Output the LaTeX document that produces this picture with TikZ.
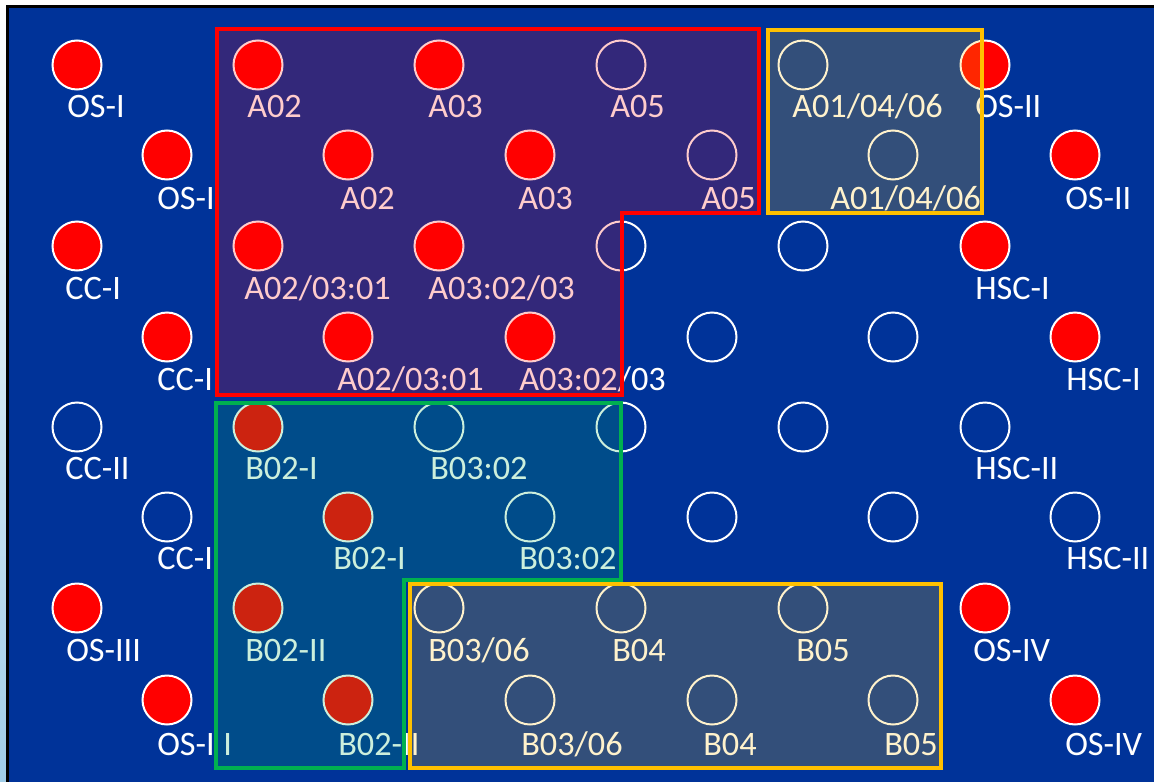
\documentclass[tikz,border=0pt]{standalone}
\usepackage{fontspec}
\setmainfont{Carlito}
\definecolor{bg}{RGB}{0,51,153}
\definecolor{gbox}{RGB}{0,176,80}
\definecolor{ybox}{RGB}{255,192,0}
\definecolor{rbox}{RGB}{255,0,0}
\definecolor{edgeblue}{RGB}{160,205,232}
\newcommand{\mkpin}[7]{%
  \node[#4] (#1) at (#2,#3) {};
  \node[lbl] (#1l) at (#5,#6) {#7};
}
\begin{document}
\begin{tikzpicture}[x=0.75pt,y=-0.75pt,
  full/.style={circle,minimum size=36.75pt,inner sep=0pt,draw=white,line width=1.5pt,fill=rbox},
  empty/.style={circle,minimum size=36.75pt,inner sep=0pt,draw=white,line width=1.5pt},
  lbl/.style={anchor=base west,inner sep=0pt,text=white,font=\fontsize{25.7}{29}\selectfont},
  overlay/.style={line width=2.4pt,fill opacity=0.2,draw opacity=1},
]
\useasboundingbox (0,0) rectangle (1154,782);
% frame and background
\fill[white] (0,0) rectangle (1154,782);
\shade[top color=white,middle color=white,bottom color=edgeblue] (0,0) rectangle (7,782);
\fill[black] (6,5) rectangle (1154,782);
\fill[bg] (9,8) rectangle (1154,782);
% row 0
\mkpin{a1}{77}{65}{full}{67}{117}{OS-I}
\mkpin{a2}{258}{65}{full}{247}{117}{A02}
\mkpin{a3}{439}{65}{full}{428}{117}{A03}
\mkpin{a4}{621}{65}{empty}{610}{117}{A05}
\mkpin{a5}{803}{65}{empty}{792}{117}{A01/04/06}
\mkpin{a6}{985}{65}{full}{975}{117}{OS-II}
% row 1
\mkpin{b1}{167}{155}{full}{157}{209}{OS-I}
\mkpin{b2}{348}{155}{full}{340}{209}{A02}
\mkpin{b3}{530}{155}{full}{518}{209}{A03}
\mkpin{b4}{712}{155}{empty}{701}{209}{A05}
\mkpin{b5}{893}{155}{empty}{830}{209}{A01/04/06}
\mkpin{b6}{1075}{155}{full}{1065}{209}{OS-II}
% row 2
\mkpin{c1}{77}{246}{full}{65}{299}{CC-I}
\mkpin{c2}{258}{246}{full}{244}{299}{A02/03:01}
\mkpin{c3}{439}{246}{full}{428}{299}{A03:02/03}
\node[empty] (c4) at (621,246) {};
\node[empty] (c5) at (803,246) {};
\mkpin{c6}{985}{246}{full}{975}{299}{HSC-I}
% row 3
\mkpin{d1}{167}{337}{full}{157}{390}{CC-I}
\mkpin{d2}{348}{337}{full}{337}{390}{A02/03:01}
\mkpin{d3}{530}{337}{full}{519}{390}{A03:02/03}
\node[empty] (d4) at (712,337) {};
\node[empty] (d5) at (893,337) {};
\mkpin{d6}{1075}{337}{full}{1066}{390}{HSC-I}
% row 4
\mkpin{e1}{77}{427}{empty}{65}{479}{CC-II}
\mkpin{e2}{258}{427}{full}{245}{479}{B02-I}
\mkpin{e3}{439}{427}{empty}{430}{479}{B03:02}
\node[empty] (e4) at (621,427) {};
\node[empty] (e5) at (803,427) {};
\mkpin{e6}{985}{427}{empty}{975}{479}{HSC-II}
% row 5
\mkpin{f1}{167}{517}{empty}{157}{569}{CC-I}
\mkpin{f2}{348}{517}{full}{333}{569}{B02-I}
\mkpin{f3}{530}{517}{empty}{519}{569}{B03:02}
\node[empty] (f4) at (712,517) {};
\node[empty] (f5) at (893,517) {};
\mkpin{f6}{1075}{517}{empty}{1066}{569}{HSC-II}
% row 6
\mkpin{g1}{77}{608}{full}{66}{661}{OS-III}
\mkpin{g2}{258}{608}{full}{245}{661}{B02-II}
\mkpin{g3}{439}{608}{empty}{428}{661}{B03/06}
\mkpin{g4}{621}{608}{empty}{612}{661}{B04}
\mkpin{g5}{803}{608}{empty}{796}{661}{B05}
\mkpin{g6}{985}{608}{full}{973}{661}{OS-IV}
% row 7
\mkpin{h1}{167}{700}{full}{157}{755}{OS-I\hspace{6.5pt}I}
\mkpin{h2}{348}{700}{full}{338}{755}{B02-II}
\mkpin{h3}{530}{700}{empty}{521}{755}{B03/06}
\mkpin{h4}{712}{700}{empty}{703}{755}{B04}
\mkpin{h5}{893}{700}{empty}{884}{755}{B05}
\mkpin{h6}{1075}{700}{full}{1065}{755}{OS-IV}
% translucent group boxes
\draw[overlay,draw=rbox,fill=rbox] (217,29) -- (759,29) -- (759,213) -- (622,213) -- (622,395) -- (217,395) -- cycle;
\draw[overlay,draw=gbox,fill=gbox] (216,403) -- (621,403) -- (621,580) -- (404,580) -- (404,768) -- (216,768) -- cycle;
\draw[overlay,draw=ybox,fill=ybox] (768,30) rectangle (982,213);
\draw[overlay,draw=ybox,fill=ybox] (410,584) rectangle (941,768);
\end{tikzpicture}
\end{document}
